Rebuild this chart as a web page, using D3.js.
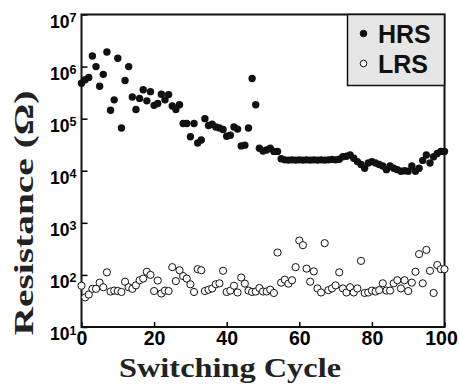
<!DOCTYPE html>
<html lang="en">
<head>
  <meta charset="UTF-8">
  <title>Resistance vs Switching Cycle</title>
  <style>
    body { margin: 0; background: #fff; }
  </style>
</head>
<body>
  <svg id="chart" width="460" height="385"></svg>

  <script src="https://d3js.org/d3.v7.min.js"></script>
  <script>
    // resistance (ohm) per switching cycle, index = cycle number 0..100
    const hrs = [
      4.8e5, 5.6e5, 6.2e5, 1.6e6, 1.0e6, 4.2e5, 7.1e5, 1.9e6, 1.45e5, 2.3e5,
      1.45e6, 6.6e4, 5.4e5, 1.0e6, 2.6e5, 1.5e5, 2.45e5, 3.6e5, 2.2e5, 3.3e5,
      1.8e5, 1.95e5, 2.95e5, 2.3e5, 2.9e5, 1.75e5, 1.5e5, 1.85e5, 8.1e4, 8.1e4,
      4.5e4, 8.1e4, 3.4e4, 3.9e4, 1.0e5, 7.4e4, 7.8e4, 6.9e4, 6.6e4, 6.2e4,
      4.6e4, 4.8e4, 6.9e4, 6.3e4, 3.0e4, 3.1e4, 6.6e4, 5.9e5, 1.85e5, 2.7e4,
      2.4e4, 2.5e4, 2.7e4, 2.35e4, 2.35e4, 1.7e4, 1.62e4, 1.6e4, 1.62e4, 1.6e4,
      1.62e4, 1.6e4, 1.62e4, 1.6e4, 1.62e4, 1.6e4, 1.62e4, 1.6e4, 1.62e4, 1.65e4,
      1.62e4, 1.66e4, 1.86e4, 1.9e4, 2.0e4, 1.74e4, 1.5e4, 1.32e4, 1.12e4, 1.41e4,
      1.5e4, 1.41e4, 1.32e4, 1.23e4, 1.05e4, 1.23e4, 1.12e4, 1.05e4, 9.8e3, 1.0e4,
      9.8e3, 1.23e4, 9.8e3, 1.12e4, 1.58e4, 2.0e4, 1.41e4, 1.86e4, 2.14e4, 2.35e4,
      2.35e4
    ];

    const lrs = [
      62, 37, 42, 54, 54, 71, 58, 112, 48, 50,
      49, 47, 74, 58, 54, 63, 79, 85, 115, 100,
      49, 78, 44, 50, 49, 141, 76, 123, 95, 85,
      66, 47, 129, 123, 49, 52, 55, 66, 69, 120,
      47, 50, 62, 46, 89, 68, 50, 47, 48, 56,
      48, 48, 52, 45, 269, 71, 81, 68, 79, 141,
      457, 372, 132, 74, 117, 55, 46, 407, 51, 55,
      63, 112, 55, 46, 58, 46, 55, 186, 45, 46,
      50, 48, 51, 69, 50, 50, 69, 79, 55, 79,
      49, 71, 115, 251, 69, 302, 120, 45, 155, 129,
      129
    ];

    const xTicks = [0, 20, 40, 60, 80, 100];
    const yTicks = [1e1, 1e2, 1e3, 1e4, 1e5, 1e6, 1e7];
    const legendNames = ["HRS", "LRS"];

    const sansFont = '"Liberation Sans", Arial, sans-serif';
    const serifFont = '"Liberation Serif", "Times New Roman", serif';

    const svg = d3.select("#chart");

    const plotLeft = 81.5, plotRight = 444.5, plotTop = 14.5, plotBottom = 327;

    const xScale = d3.scaleLinear()
      .domain([0, 100])
      .range([plotLeft, plotRight]);

    const yScale = d3.scaleLog()
      .domain([1e1, 1e7])
      .range([plotBottom, plotTop]);

    // x axis, ticks pointing inside
    const xAxis = d3.axisBottom(xScale)
      .tickValues(xTicks)
      .tickSize(-5)
      .tickPadding(4)
      .tickSizeOuter(0);

    const gx = svg.append("g")
      .attr("transform", `translate(0,${plotBottom})`)
      .call(xAxis);
    gx.select(".domain").remove();
    gx.attr("font-size", 19.5)
      .attr("font-family", sansFont)
      .attr("font-weight", "bold");
    gx.selectAll(".tick line").attr("stroke-width", 1.5);
    gx.selectAll(".tick text")
      .attr("fill", "#000")
      .attr("dx", d => d === 100 ? -3.5 : 0);

    // y axis with 10^n labels
    const yAxis = d3.axisLeft(yScale)
      .tickValues(yTicks)
      .tickSize(-6)
      .tickPadding(5)
      .tickFormat("");

    const gy = svg.append("g")
      .attr("transform", `translate(${plotLeft},0)`)
      .call(yAxis);
    gy.select(".domain").remove();
    gy.attr("font-family", sansFont)
      .attr("font-weight", "bold");
    gy.selectAll(".tick line").attr("stroke-width", 1.5);
    gy.selectAll(".tick text").each(function(d) {
      const t = d3.select(this)
        .attr("dy", null)
        .attr("y", 12.5)
        .attr("fill", "#000");
      t.append("tspan").attr("font-size", 17.5).text("10");
      t.append("tspan").attr("font-size", 12.5).attr("dy", -5.5)
        .text(Math.round(Math.log10(d)));
    });

    // frame
    svg.append("rect")
      .attr("x", plotLeft)
      .attr("y", plotTop)
      .attr("width", plotRight - plotLeft)
      .attr("height", plotBottom - plotTop)
      .attr("fill", "none")
      .attr("stroke", "#111")
      .attr("stroke-width", 2);

    // data
    svg.append("g").selectAll("circle")
      .data(lrs)
      .join("circle")
      .attr("cx", (d, i) => xScale(i))
      .attr("cy", d => yScale(d))
      .attr("r", 3.6)
      .attr("fill", "white")
      .attr("stroke", "#111")
      .attr("stroke-width", 1);

    svg.append("g").selectAll("circle")
      .data(hrs)
      .join("circle")
      .attr("cx", (d, i) => xScale(i))
      .attr("cy", d => yScale(d))
      .attr("r", 3.7)
      .attr("fill", "#111");

    // axis titles
    svg.append("text")
      .attr("x", 230)
      .attr("y", 376.5)
      .attr("text-anchor", "middle")
      .attr("font-family", serifFont)
      .attr("font-weight", "bold")
      .attr("font-size", 28)
      .attr("textLength", 222)
      .attr("lengthAdjust", "spacingAndGlyphs")
      .attr("fill", "#222")
      .text("Switching Cycle");

    svg.append("text")
      .attr("transform", "translate(33,213) rotate(-90)")
      .attr("text-anchor", "middle")
      .attr("font-family", serifFont)
      .attr("font-weight", "bold")
      .attr("font-size", 27)
      .attr("textLength", 245)
      .attr("lengthAdjust", "spacingAndGlyphs")
      .attr("fill", "#222")
      .text("Resistance (Ω)");

    // legend
    const legend = svg.append("g");
    legend.append("rect")
      .attr("x", 347.5)
      .attr("y", plotTop)
      .attr("width", plotRight - 347.5)
      .attr("height", 71)
      .attr("fill", "#e6e6e6")
      .attr("stroke", "#111")
      .attr("stroke-width", 1.5);

    legendNames.forEach(function(name, i) {
      const cy = 33.5 + i * 30;
      legend.append("circle")
        .attr("cx", 363.5)
        .attr("cy", cy)
        .attr("r", 3.3)
        .attr("fill", i === 0 ? "#111" : "white")
        .attr("stroke", "#111")
        .attr("stroke-width", 1);
      legend.append("text")
        .attr("x", 378)
        .attr("y", cy + 9.5)
        .attr("font-family", sansFont)
        .attr("font-weight", "bold")
        .attr("font-size", 25)
        .attr("fill", "#111")
        .text(name);
    });
  </script>
</body>
</html>
